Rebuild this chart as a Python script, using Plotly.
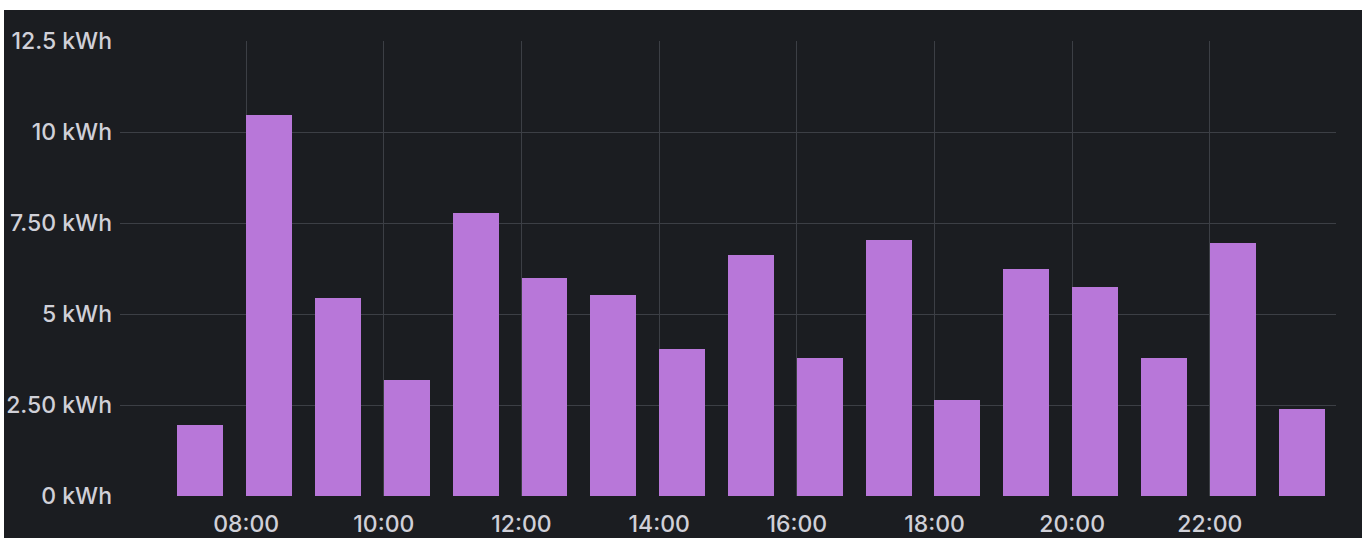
import plotly.graph_objects as go

# Data
hours = ["07:00", "08:00", "09:00", "10:00", "11:00", "12:00", "13:00", "14:00", "15:00",
         "16:00", "17:00", "18:00", "19:00", "20:00", "21:00", "22:00", "23:00"]
energy_kwh = [1.94, 10.47, 5.45, 3.18, 7.77, 5.98, 5.52, 4.05, 6.61,
              3.78, 7.04, 2.65, 6.25, 5.73, 3.79, 6.96, 2.40]
x_tick_labels = ["08:00", "10:00", "12:00", "14:00", "16:00", "18:00", "20:00", "22:00"]
y_tick_values = [0, 2.5, 5, 7.5, 10, 12.5]
y_tick_labels = ["0 kWh", "2.50 kWh", "5 kWh", "7.50 kWh", "10 kWh", "12.5 kWh"]

DAY = "2024-01-01 "
x_vals = [DAY + h for h in hours]
x_ticks = [DAY + h for h in x_tick_labels]

BG = "#1b1d21"
GRID = "#3c3f45"
TEXT = "#d0d0d8"
BAR = "#b877d9"

fig = go.Figure()
fig.add_trace(go.Bar(
    x=x_vals, y=energy_kwh,
    width=[40 * 60 * 1000] * len(x_vals),
    offset=0,
    marker=dict(color=BAR, line=dict(width=0)),
))

W, H = 1370, 538
L, R, T, B = 120, 34, 41, 42
pw, ph = W - L - R, H - T - B

def px_x(px):
    return (px - L) / pw

def px_y(py):
    return (H - B - py) / ph

shapes = [
    dict(type="rect", xref="paper", yref="paper", x0=px_x(-5), x1=px_x(W + 5),
         y0=px_y(10), y1=px_y(-5), fillcolor="white", line=dict(width=0), layer="above"),
    dict(type="rect", xref="paper", yref="paper", x0=px_x(-5), x1=px_x(4),
         y0=px_y(H + 5), y1=px_y(-5), fillcolor="white", line=dict(width=0), layer="above"),
    dict(type="rect", xref="paper", yref="paper", x0=px_x(1362), x1=px_x(W + 5),
         y0=px_y(H + 5), y1=px_y(-5), fillcolor="white", line=dict(width=0), layer="above"),
]

fig.update_layout(
    width=W, height=H,
    autosize=False,
    margin=dict(l=L, r=R, t=T, b=B, pad=0),
    paper_bgcolor=BG, plot_bgcolor=BG,
    showlegend=False,
    font=dict(family="Inter, Roboto, sans-serif", size=23, color=TEXT, weight=500),
    shapes=shapes,
    bargap=0,
    xaxis=dict(
        type="date",
        range=[DAY + "06:10", DAY + "23:50"],
        tickvals=x_ticks, ticktext=x_tick_labels,
        showgrid=True, gridcolor=GRID, gridwidth=1,
        zeroline=False, showline=False, ticks="",
        ticklabelstandoff=12,
        automargin=False,
        fixedrange=True,
    ),
    yaxis=dict(
        range=[0, 12.5],
        tickvals=y_tick_values, ticktext=y_tick_labels,
        showgrid=True, gridcolor=GRID, gridwidth=1,
        zeroline=False, showline=False, ticks="",
        ticklabelstandoff=7,
        automargin=False,
        fixedrange=True,
    ),
)

fig.write_html(
    "out.html",
    config={"displayModeBar": False},
    post_script="document.body.style.margin='0';",
)
